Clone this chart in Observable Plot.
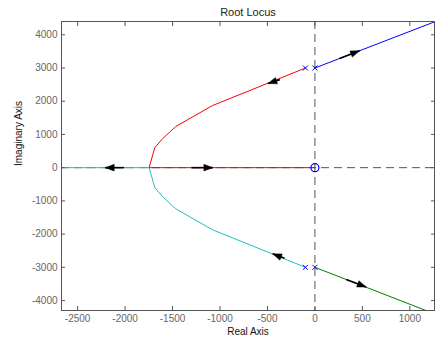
<!DOCTYPE html>
<html>
<head>
<meta charset="utf-8">
<script src="https://cdn.jsdelivr.net/npm/d3@7"></script>
<script src="https://cdn.jsdelivr.net/npm/@observablehq/plot@0.6"></script>
<style>
  html, body { margin: 0; padding: 0; background: #fff; }
  #chart { width: 435px; height: 347px; overflow: hidden; }
  svg { display: block; }
</style>
</head>
<body>
<div id="chart"></div>
<script>
// ---- data ----
const xTicks = [-2500, -2000, -1500, -1000, -500, 0, 500, 1000];
const yTicks = [-4000, -3000, -2000, -1000, 0, 1000, 2000, 3000, 4000];

// locus branches (real, imag)
const redBranch = [
  [-100, 3000], [-448, 2598], [-1080, 1869], [-1466, 1239], [-1606, 870],
  [-1687, 600], [-1747, 0], [0, 0]
];
const cyanBranch = [
  [-100, -3000], [-448, -2598], [-1080, -1869], [-1466, -1239], [-1606, -870],
  [-1687, -600], [-1747, 0], [-2670, 0]
];
const blueBranch = [[0, 3000], [1260, 4390]];
const greenBranch = [[0, -3000], [1170, -4300]];

const poles = [[-100, 3000], [0, 3000], [-100, -3000], [0, -3000]];
const zeros = [[0, 0]];

// arrows: tail -> tip
const arrows = [
  {tail: [260, 3287], tip: [470, 3518]},
  {tail: [330, -3365], tip: [540, -3595]},
  {tail: [-370, 2650], tip: [-495, 2533]},
  {tail: [-320, -2730], tip: [-445, -2595]},
  {tail: [-1300, 0], tip: [-1075, 0]},
  {tail: [-2010, 0], tip: [-2210, 0]}
];

const toObj = (a) => a.map(([x, y]) => ({x, y}));

function headSymbol(angle) {
  return {
    draw(ctx) {
      const L = 9, W = 3.3;
      const c = Math.cos(angle), s = Math.sin(angle);
      const pts = [[0, 0], [-L, -W], [-L, W]].map(([u, v]) => [u * c - v * s, u * s + v * c]);
      ctx.moveTo(pts[0][0], pts[0][1]);
      ctx.lineTo(pts[1][0], pts[1][1]);
      ctx.lineTo(pts[2][0], pts[2][1]);
      ctx.closePath();
    }
  };
}

const font = "'Liberation Sans', Arial, Helvetica, sans-serif";

function build(extraMarks) {
  return Plot.plot({
    width: 435,
    height: 347,
    marginLeft: 61,
    marginRight: 1,
    marginTop: 21,
    marginBottom: 37,
    style: {fontFamily: font, fontSize: "10px", background: "#fff", color: "#000"},
    x: {domain: [-2670, 1260], ticks: xTicks},
    y: {domain: [-4300, 4400], ticks: yTicks},
    marks: [
      Plot.ruleX([0], {stroke: "#555", strokeDasharray: "8,5", strokeWidth: 1}),
      Plot.ruleY([0], {stroke: "#555", strokeDasharray: "8,5", strokeWidth: 1}),
      Plot.line(toObj(cyanBranch), {x: "x", y: "y", stroke: "#1fbfbf", strokeWidth: 1}),
      Plot.line(toObj(redBranch), {x: "x", y: "y", stroke: "#ff0000", strokeWidth: 1}),
      Plot.line(toObj(blueBranch), {x: "x", y: "y", stroke: "#0000ff", strokeWidth: 1}),
      Plot.line(toObj(greenBranch), {x: "x", y: "y", stroke: "#008000", strokeWidth: 1}),
      Plot.link(arrows, {x1: d => d.tail[0], y1: d => d.tail[1], x2: d => d.tip[0], y2: d => d.tip[1], stroke: "#000", strokeWidth: 1.6}),
      ...extraMarks,
      Plot.dot(toObj(poles), {x: "x", y: "y", symbol: "times", r: 2.4, stroke: "#0000ff", strokeWidth: 1}),
      Plot.dot(toObj(zeros), {x: "x", y: "y", symbol: "circle", r: 4, stroke: "#0000ff", fill: "none", strokeWidth: 1.2}),
      Plot.frame({stroke: "#555", strokeWidth: 1}),
      Plot.axisX({anchor: "bottom", ticks: xTicks, tickSize: -4, tickPadding: 8, tickFormat: d => `${d}`, stroke: "#555", fill: "#666", label: null}),
      Plot.axisX({anchor: "top", ticks: xTicks, tickSize: -4, tickFormat: () => "", stroke: "#555", label: null}),
      Plot.axisY({anchor: "left", ticks: yTicks, tickSize: -4, tickPadding: 8, tickFormat: d => `${d}`, stroke: "#555", fill: "#666", label: null}),
      Plot.axisY({anchor: "right", ticks: yTicks, tickSize: -4, tickFormat: () => "", stroke: "#555", label: null}),
      Plot.text(["Real Axis"], {frameAnchor: "bottom", dy: 24, fontSize: 10, fill: "#111"}),
      Plot.text(["Imaginary Axis"], {frameAnchor: "left", dx: -43, rotate: -90, fontSize: 10, fill: "#111"}),
      Plot.text(["Root Locus"], {frameAnchor: "top", dy: -13, fontSize: 11, fill: "#222"})
    ]
  });
}

const first = build([]);
const sx = first.scale("x"), sy = first.scale("y");
const headMarks = arrows.map(a => {
  const dx = sx.apply(a.tip[0]) - sx.apply(a.tail[0]);
  const dy = sy.apply(a.tip[1]) - sy.apply(a.tail[1]);
  const ang = Math.atan2(dy, dx);
  return Plot.dot([a], {x: d => d.tip[0], y: d => d.tip[1], symbol: headSymbol(ang), r: 4, fill: "#000", stroke: "#000", strokeWidth: 0.5});
});
const chart = build(headMarks);
document.getElementById("chart").appendChild(chart);
</script>
</body>
</html>
